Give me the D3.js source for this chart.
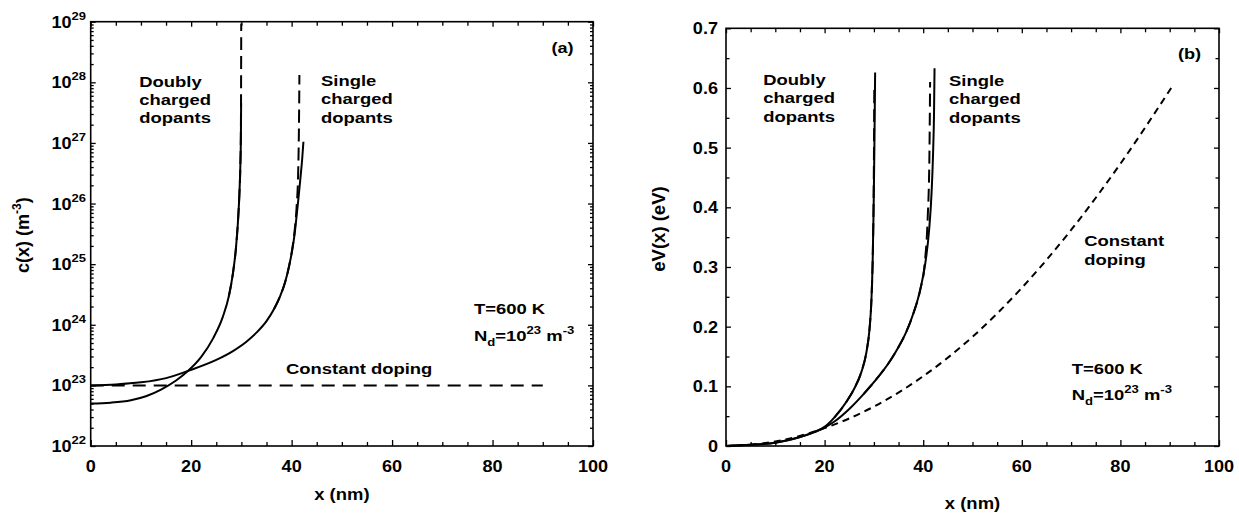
<!DOCTYPE html>
<html><head><meta charset="utf-8">
<script src="https://cdn.jsdelivr.net/npm/d3@7"></script>
<style>
body{margin:0;background:#fff;}
svg text{font-family:"Liberation Sans",Arial,Helvetica,sans-serif;font-weight:bold;fill:#000;}
</style></head><body>
<svg id="chart" width="1239" height="513"></svg>
<script>
// ---------- data ----------
const xTickValues = [0, 20, 40, 60, 80, 100];
const cTickExponents = [22, 23, 24, 25, 26, 27, 28, 29];
const vTickValues = [0, 0.1, 0.2, 0.3, 0.4, 0.5, 0.6, 0.7];
const vTickLabels = ["0", "0.1", "0.2", "0.3", "0.4", "0.5", "0.6", "0.7"];

// panel (a): concentration c(x) in m^-3 (given as log10 values)
const cDoublyX    = [0, 4, 8, 11, 14, 17, 19.4, 22, 24.4, 26.3, 27.5, 28.3, 28.9, 29.3, 29.6, 29.8, 29.9, 29.95];
const cDoublyLog  = [22.70, 22.715, 22.755, 22.82, 22.93, 23.08, 23.24, 23.47, 23.78, 24.13, 24.47, 24.84, 25.25, 25.68, 26.15, 26.65, 27.1, 27.66];
const cDoublyApproxX   = [27.5, 28.3, 28.9, 29.3, 29.6, 29.8, 29.9, 29.94, 29.97];
const cDoublyApproxLog = [24.47, 24.84, 25.25, 25.68, 26.15, 26.65, 27.2, 28.0, 28.97];
const cSingleX    = [0, 5, 10, 15, 19.4, 25, 28.4, 31, 33, 35, 36.5, 37.7, 38.7, 39.5, 40.1, 40.6, 41.0, 41.4, 41.8, 42.1, 42.35];
const cSingleLog  = [23.0, 23.015, 23.05, 23.12, 23.24, 23.42, 23.57, 23.72, 23.87, 24.06, 24.26, 24.47, 24.70, 24.97, 25.22, 25.5, 25.8, 26.12, 26.46, 26.73, 27.02];
const cSingleApproxX   = [36.5, 37.7, 38.7, 39.5, 40.1, 40.6, 41.0, 41.3, 41.45, 41.52, 41.55];
const cSingleApproxLog = [24.26, 24.47, 24.70, 24.97, 25.24, 25.55, 25.95, 26.5, 27.2, 27.8, 28.12];
const cConstX   = [0, 90];
const cConstLog = [23, 23];

// panel (b): potential eV(x) in eV
const vDoublyX = [0, 5, 10, 12.5, 15, 17.5, 20, 22, 24.5, 26, 27.5, 28.5, 29.1, 29.5, 29.75, 29.95, 30.1, 30.25];
const vDoublyY = [0, 0.002, 0.0055, 0.0095, 0.015, 0.022, 0.032, 0.048, 0.075, 0.096, 0.125, 0.158, 0.195, 0.245, 0.31, 0.40, 0.50, 0.626];
const vDoublyApproxX = [22, 24.5, 26, 27.5, 28.5, 29.1, 29.5, 29.75, 29.92, 30.02, 30.08];
const vDoublyApproxY = [0.048, 0.075, 0.096, 0.125, 0.158, 0.195, 0.245, 0.31, 0.40, 0.50, 0.597];
const vSingleX = [0, 5, 10, 12.5, 15, 17.5, 20, 22, 25, 27.9, 31, 33, 35, 36.5, 38, 39.4, 40.4, 41.2, 41.7, 42.0, 42.2, 42.3];
const vSingleY = [0, 0.002, 0.0055, 0.0095, 0.015, 0.022, 0.031, 0.041, 0.062, 0.087, 0.117, 0.139, 0.166, 0.19, 0.222, 0.262, 0.305, 0.362, 0.425, 0.49, 0.56, 0.633];
const vSingleApproxX = [27.9, 31, 33, 35, 36.5, 38, 39.4, 40.3, 40.9, 41.25, 41.4];
const vSingleApproxY = [0.087, 0.117, 0.139, 0.166, 0.19, 0.222, 0.262, 0.305, 0.38, 0.48, 0.61];
const vConstX = [0, 10, 20, 30, 40, 50, 60, 70, 80, 90.3];
const vConstY = [0, 0.0075, 0.03, 0.066, 0.117, 0.183, 0.265, 0.362, 0.473, 0.6];

// ---------- drawing ----------
const svg = d3.select("#chart");

const xA = d3.scaleLinear().domain([0, 100]).range([90.7, 593]);
const yA = d3.scaleLog().domain([1e22, 1e29]).range([446, 21.7]);
const xB = d3.scaleLinear().domain([0, 100]).range([726, 1219]);
const yB = d3.scaleLinear().domain([0, 0.7]).range([446, 28.3]);

const minorX = d3.range(0, 101, 5).filter(v => v % 20 !== 0);
const logMinor = [];
for (let e = 22; e < 29; e++) for (let m = 2; m <= 9; m++) logMinor.push(m * Math.pow(10, e));
const logMajor = cTickExponents.map(e => Math.pow(10, e));
const vMinor = [0.05, 0.15, 0.25, 0.35, 0.45, 0.55, 0.65];

// text helper: slightly wide bold sans, like the reference
function txt(x, y, size, anchor, sx) {
  return svg.append("text")
    .attr("transform", `translate(${x},${y}) scale(${sx || 1.15},1)`)
    .attr("text-anchor", anchor || "start")
    .attr("font-size", size);
}

function tickAxis(axisFn, scale, values, size, tx, ty) {
  const a = axisFn(scale).tickValues(values).tickSizeInner(size).tickSizeOuter(0).tickFormat("");
  const gg = svg.append("g").attr("transform", `translate(${tx},${ty})`).call(a);
  gg.select(".domain").remove();
  gg.selectAll("line").attr("stroke", "#000").attr("stroke-width", 1.3);
}

function frame(x, y) {
  const [x0, x1] = x.range();
  const [y0, y1] = y.range();
  tickAxis(d3.axisBottom, x, xTickValues, -6, 0, y0);
  tickAxis(d3.axisBottom, x, minorX, -4, 0, y0);
  tickAxis(d3.axisTop, x, xTickValues, -5, 0, y1);
  tickAxis(d3.axisTop, x, minorX, -4, 0, y1);
  svg.append("rect").attr("x", x0).attr("y", y1).attr("width", x1 - x0).attr("height", y0 - y1)
    .attr("fill", "none").attr("stroke", "#000").attr("stroke-width", 1.6);
  xTickValues.forEach(d => txt(x(d), 472, 16, "middle", 1.13).text(d));
}

frame(xA, yA);
frame(xB, yB);

// left y ticks (log)
tickAxis(d3.axisLeft, yA, logMajor, -5, xA.range()[0], 0);
tickAxis(d3.axisLeft, yA, logMinor, -3, xA.range()[0], 0);
tickAxis(d3.axisRight, yA, logMajor, -5, xA.range()[1], 0);
tickAxis(d3.axisRight, yA, logMinor, -3, xA.range()[1], 0);
cTickExponents.forEach(e => {
  const t = txt(86, yA(Math.pow(10, e)) + 6, 16, "end", 1.13);
  t.append("tspan").text("10");
  t.append("tspan").attr("dy", -8).attr("font-size", 11.5).text(e);
});

// right y ticks
tickAxis(d3.axisLeft, yB, vTickValues, -5, xB.range()[0], 0);
tickAxis(d3.axisLeft, yB, vMinor, -3.5, xB.range()[0], 0);
tickAxis(d3.axisRight, yB, vTickValues, -5, xB.range()[1], 0);
tickAxis(d3.axisRight, yB, vMinor, -3.5, xB.range()[1], 0);
vTickValues.forEach((v, i) => txt(718, yB(v) + 6, 16, "end", 1.13).text(vTickLabels[i]));

// axis titles
txt((xA.range()[0] + xA.range()[1]) / 2, 500, 16.5, "middle", 1.12).text("x (nm)");
txt((xB.range()[0] + xB.range()[1]) / 2, 509, 16.5, "middle", 1.12).text("x (nm)");
{
  const t = svg.append("text").attr("transform", "translate(28.5,273) rotate(-90)")
    .attr("text-anchor", "start").attr("font-size", 18);
  t.append("tspan").text("c(x) (m");
  t.append("tspan").attr("dy", -8).attr("font-size", 12).text("-3");
  t.append("tspan").attr("dy", 8).text(")");
}
svg.append("text").attr("transform", "translate(665,271.7) rotate(-90)")
  .attr("text-anchor", "start").attr("font-size", 18.5).text("eV(x) (eV)");

// curves
function curve(x, y, xs, ys, dash, isLog) {
  const line = d3.line().x(d => x(d[0])).y(d => y(isLog ? Math.pow(10, d[1]) : d[1]))
    .curve(d3.curveMonotoneX);
  svg.append("path").attr("d", line(d3.zip(xs, ys))).attr("fill", "none")
    .attr("stroke", "#000").attr("stroke-width", 2)
    .attr("stroke-dasharray", dash || null);
}
curve(xA, yA, cConstX, cConstLog, "13,8", true);
curve(xA, yA, cDoublyApproxX, cDoublyApproxLog, "13,6", true);
curve(xA, yA, cSingleApproxX, cSingleApproxLog, "13,6", true);
curve(xA, yA, cDoublyX, cDoublyLog, null, true);
curve(xA, yA, cSingleX, cSingleLog, null, true);

curve(xB, yB, vConstX, vConstY, "7,5");
curve(xB, yB, vDoublyApproxX, vDoublyApproxY, "13,6");
curve(xB, yB, vSingleApproxX, vSingleApproxY, "13,6");
curve(xB, yB, vDoublyX, vDoublyY);
curve(xB, yB, vSingleX, vSingleY);

// annotations
function block(x, ys, lines, size, sx) {
  lines.forEach((s, i) => txt(x, ys[i], size, "start", sx).text(s));
}
block(139.3, [87, 105, 123], ["Doubly", "charged", "dopants"], 15.5, 1.19);
block(321, [85.5, 104, 122.5], ["Single", "charged", "dopants"], 15.5, 1.19);
block(551.5, [53], ["(a)"], 15.5, 1.17);
block(474, [314], ["T=600 K"], 15.5, 1.19);
block(286, [373.5], ["Constant doping"], 15.5, 1.19);

block(763.3, [85, 103, 121.5], ["Doubly", "charged", "dopants"], 15.5, 1.19);
block(949, [85.5, 104, 122.5], ["Single", "charged", "dopants"], 15.5, 1.19);
block(1178, [59], ["(b)"], 15.5, 1.17);
block(1084.3, [246, 265], ["Constant", "doping"], 15.5, 1.19);
block(1071.7, [374], ["T=600 K"], 15.5, 1.19);

function ndLabel(x, y) {
  const t = txt(x, y, 15.5, "start", 1.19);
  t.append("tspan").text("N");
  t.append("tspan").attr("dy", 5).attr("font-size", 11).text("d");
  t.append("tspan").attr("dy", -5).text("=10");
  t.append("tspan").attr("dy", -7).attr("font-size", 11).text("23");
  t.append("tspan").attr("dy", 7).text(" m");
  t.append("tspan").attr("dy", -7).attr("font-size", 11).text("-3");
}
ndLabel(474, 341);
ndLabel(1071.7, 400);
</script>
</body></html>
